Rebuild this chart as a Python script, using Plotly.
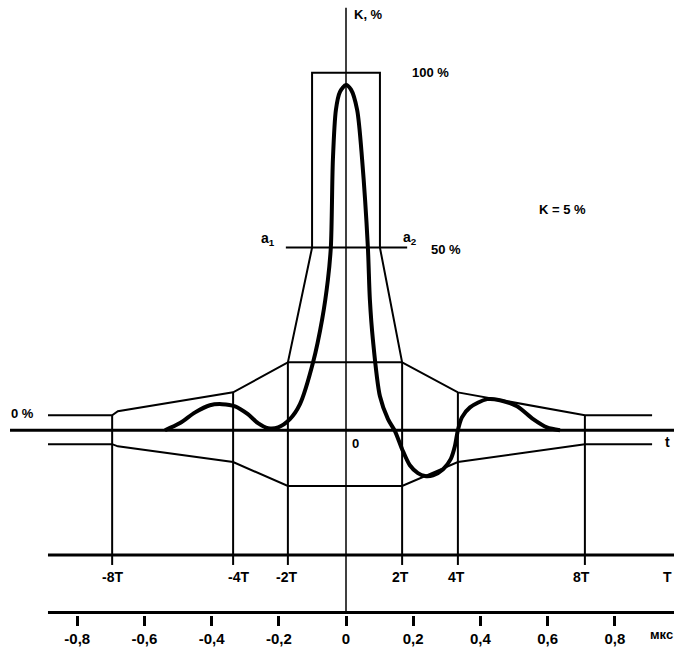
import plotly.graph_objects as go

# ---- data (x in мкс, K in %) ----
curve_x = [-0.539, -0.494, -0.449, -0.405, -0.369, -0.330, -0.292, -0.262, -0.232, -0.202,
           -0.167, -0.137, -0.098, -0.071, -0.054, -0.045, -0.039, -0.030, -0.018, 0.0,
           0.015, 0.033, 0.048, 0.065, 0.071, 0.080, 0.101, 0.125, 0.146, 0.167,
           0.190, 0.214, 0.235, 0.259, 0.289, 0.312, 0.324, 0.333, 0.345, 0.369, 0.420,
           0.458, 0.509, 0.557, 0.598, 0.637]
curve_k = [0.0, 2.0, 5.0, 7.0, 7.3, 6.7, 4.5, 2.0, 0.6, 0.8,
           3.1, 7.3, 19.0, 31.0, 42.0, 51.4, 75.7, 89.7, 94.7, 96.6,
           95.3, 89.7, 75.7, 51.4, 36.6, 25.4, 9.5, 3.1, -0.3, -5.3,
           -9.8, -12.0, -12.8, -12.6, -10.9, -8.0, -4.5, 0.0, 3.6, 6.4, 8.7,
           8.4, 6.7, 3.1, 0.8, 0.0]

upper_x = [-0.887, -0.696, -0.679, -0.336, -0.173, -0.101, -0.101, 0.101, 0.101, 0.167, 0.333, 0.711, 0.911]
upper_k = [4.2, 4.2, 5.3, 10.6, 19.0, 51.1, 100.0, 100.0, 51.1, 19.0, 10.6, 4.2, 4.2]

lower_x = [-0.887, -0.696, -0.679, -0.336, -0.173, 0.167, 0.333, 0.711, 0.911]
lower_k = [-3.9, -3.9, -4.5, -8.9, -15.6, -15.6, -8.9, -3.9, -3.9]

inner_x = [-0.173, 0.167]
inner_k = [19.0, 19.0]

half_x = [-0.179, 0.182]
half_k = [51.1, 51.1]

# vertical marker lines: x and top K
mark_x = [-0.696, -0.336, -0.173, 0.167, 0.333, 0.711]
mark_top = [4.2, 10.6, 19.0, 19.0, 10.6, 4.2]
mark_labels = ["-8T", "-4T", "-2T", "2T", "4T", "8T"]
mark_label_x = [-0.696, -0.32, -0.176, 0.161, 0.330, 0.702]

t_axis_k = -34.9
t_tick_bottom = -37.7
us_axis_k = -51.0
axis_top = 118.2

us_ticks = [-0.8, -0.6, -0.4, -0.2, 0.0, 0.2, 0.4, 0.6, 0.8]
us_ticktext = ["-0,8", "-0,6", "-0,4", "-0,2", "0", "0,2", "0,4", "0,6", "0,8"]

x_range = [-1.0298, 0.9762]
y_range = [-51.7, 120.39]

fig = go.Figure()

def line(xs, ys, w):
    fig.add_trace(go.Scatter(x=xs, y=ys, mode="lines",
                             line=dict(color="black", width=w),
                             showlegend=False, hoverinfo="skip"))

# vertical K axis
line([0, 0], [axis_top, us_axis_k], 1.5)
# main horizontal axis
line([-1.0, x_range[1]], [0, 0], 3)
# mask
line(upper_x, upper_k, 2)
line(lower_x, lower_k, 2)
line(inner_x, inner_k, 2)
line(half_x, half_k, 2)
for mx, mt in zip(mark_x, mark_top):
    line([mx, mx], [mt, t_tick_bottom], 2)
# T axis and мкс axis lines
line([-0.887, x_range[1]], [t_axis_k, t_axis_k], 3)
line([-0.887, x_range[1]], [us_axis_k, us_axis_k], 3)

# pulse curve
fig.add_trace(go.Scatter(x=curve_x, y=curve_k, mode="lines",
                         line=dict(color="black", width=4, shape="spline", smoothing=0.8),
                         showlegend=False, hoverinfo="skip"))

fnt = dict(family="Liberation Sans", size=15, color="black", weight="bold")

def ann(x, y, text, xanchor="center", size=14, yref="y"):
    f = dict(fnt)
    f["size"] = size
    fig.add_annotation(x=x, y=y, yref=yref, text=text, showarrow=False, xanchor=xanchor,
                       yanchor="middle", font=f)

ann(0.018, 116.2, "K, %", xanchor="left", size=13)
ann(0.25, 100.0, "100 %", size=13)
ann(0.643, 61.7, "K = 5 %", size=13)
ann(-0.232, 53.4, "а<sub>1</sub>", size=14)
ann(0.19, 53.9, "а<sub>2</sub>", size=14)
ann(0.298, 50.6, "50 %", size=13)
ann(-0.964, 4.7, "0 %", size=13)
ann(0.027, -3.6, "0", size=13)
ann(0.958, -3.4, "t", size=14)
for lx, lt in zip(mark_label_x, mark_labels):
    ann(lx, -41.1, lt, size=14)
ann(0.958, -41.1, "T", size=14)
ann(0.94, -0.031, "мкс", size=13, yref="paper")

fig.update_layout(
    width=674, height=647,
    margin=dict(l=0, r=0, t=0, b=32),
    paper_bgcolor="white", plot_bgcolor="white",
    xaxis=dict(range=x_range, showgrid=False, zeroline=False, showline=False,
               ticks="outside", ticklen=10, tickwidth=3, tickcolor="black",
               tickvals=us_ticks, ticktext=us_ticktext, tickfont=fnt,
               fixedrange=True),
    yaxis=dict(range=y_range, visible=False, fixedrange=True),
)

fig.write_html("out.html", config={"displayModeBar": False},
               post_script="document.body.style.margin='0';document.body.style.overflow='hidden';")
